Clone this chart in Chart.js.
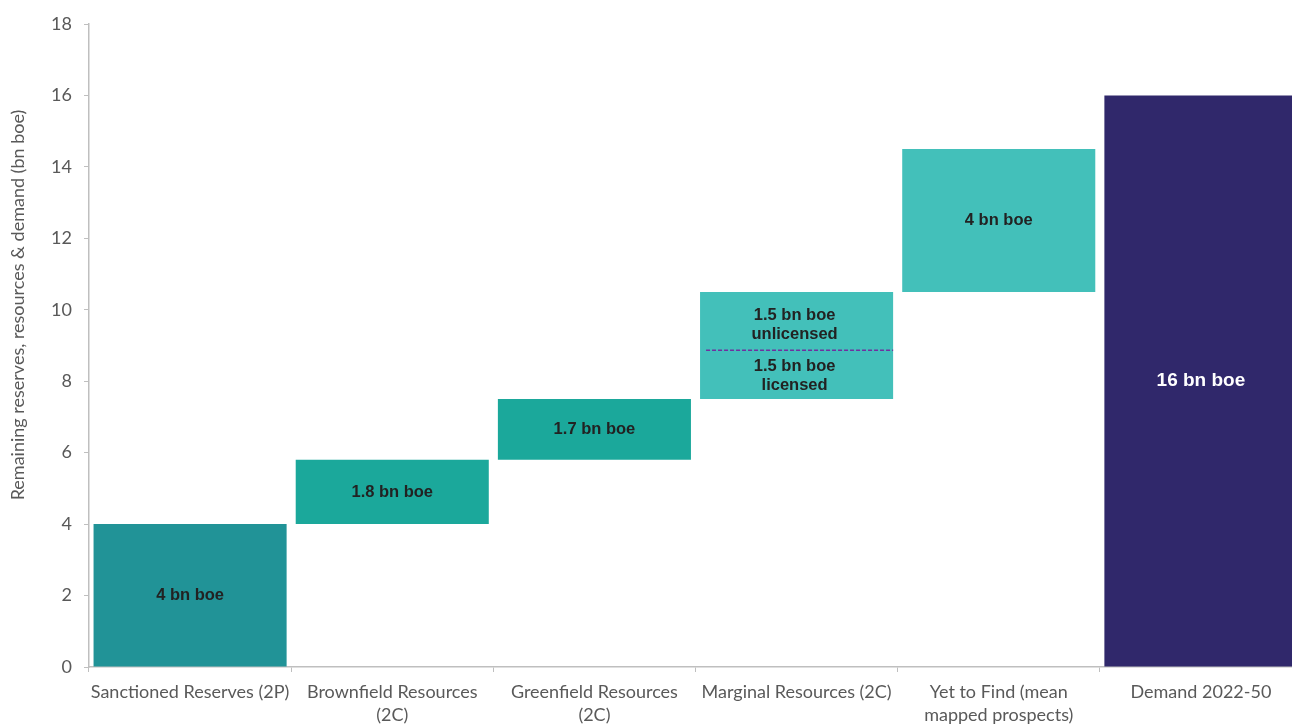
<!DOCTYPE html>
<html>
<head>
<meta charset="utf-8">
<script src="https://cdn.jsdelivr.net/npm/chart.js@4.4.1/dist/chart.umd.min.js"></script>
<style>
html,body{margin:0;padding:0;overflow:hidden;background:#fff;}
#wrap{width:1302px;height:725px;}
</style>
</head>
<body>
<div id="wrap"><canvas id="c" width="1302" height="725"></canvas></div>
<script>
const categories = [
  ["Sanctioned Reserves (2P)"],
  ["Brownfield Resources", "(2C)"],
  ["Greenfield Resources", "(2C)"],
  ["Marginal Resources (2C)"],
  ["Yet to Find (mean", "mapped prospects)"],
  ["Demand 2022-50"]
];
const barStart = [0, 4.0, 5.8, 7.5, 10.5, 0];
const barEnd   = [4.0, 5.8, 7.5, 10.5, 14.5, 16.0];
const barColors = ["#219397", "#1BA89B", "#1BA89B", "#43C0BA", "#43C0BA", "#30286B"];
const barLabels = [
  ["4 bn boe"],
  ["1.8 bn boe"],
  ["1.7 bn boe"],
  null,
  ["4 bn boe"],
  ["16 bn boe"]
];
const labelColors = ["#222222", "#222222", "#222222", "#222222", "#222222", "#FFFFFF"];
const labelSizes = [16.5, 16.5, 16.5, 16.5, 16.5, 19];
const marginalIndex = 3;
const marginalSplit = 8.87;
const marginalUpper = ["1.5 bn boe", "unlicensed"];
const marginalLower = ["1.5 bn boe", "licensed"];
const yTicks = [0, 2, 4, 6, 8, 10, 12, 14, 16, 18];
const yTitle = "Remaining reserves, resources & demand (bn boe)";

const axisGray = "#BFBFBF";
const tickText = "#595959";

const labelPlugin = {
  id: "barLabels",
  afterDatasetsDraw(chart) {
    const ctx = chart.ctx;
    const meta = chart.getDatasetMeta(0);
    const y = chart.scales.y;
    ctx.save();
    ctx.textAlign = "center";
    ctx.textBaseline = "middle";
    const lh = 19;
    const drawLines = (lines, cx, cy, color, size) => {
      ctx.font = "bold " + size + "px 'Liberation Sans', Arial, sans-serif";
      ctx.fillStyle = color;
      const n = lines.length;
      lines.forEach((t, i) => ctx.fillText(t, cx, cy + (i - (n - 1) / 2) * lh));
    };
    meta.data.forEach((bar, i) => {
      const cx = bar.x;
      if (i === marginalIndex) {
        const ySplit = y.getPixelForValue(marginalSplit);
        const yTop = y.getPixelForValue(barEnd[i]);
        const yBot = y.getPixelForValue(barStart[i]);
        drawLines(marginalUpper, cx - 2, (yTop + ySplit) / 2 + 4, labelColors[i], labelSizes[i]);
        drawLines(marginalLower, cx - 2, (ySplit + yBot) / 2 + 1, labelColors[i], labelSizes[i]);
        ctx.save();
        ctx.strokeStyle = "#7030A0";
        ctx.lineWidth = 1.5;
        ctx.setLineDash([4, 2]);
        ctx.beginPath();
        ctx.moveTo(bar.x - bar.width / 2 + 6, ySplit);
        ctx.lineTo(bar.x + bar.width / 2, ySplit);
        ctx.stroke();
        ctx.restore();
      } else if (barLabels[i]) {
        const cy = (y.getPixelForValue(barStart[i]) + y.getPixelForValue(barEnd[i])) / 2;
        drawLines(barLabels[i], cx, cy, labelColors[i], labelSizes[i]);
      }
    });
    // y axis title
    ctx.save();
    ctx.font = "18px Lato, 'Open Sans', sans-serif";
    ctx.fillStyle = tickText;
    ctx.translate(18, 305);
    ctx.rotate(-Math.PI / 2);
    ctx.textAlign = "center";
    ctx.textBaseline = "middle";
    ctx.fillText(yTitle, 0, 0);
    ctx.restore();
    ctx.restore();
  }
};

new Chart(document.getElementById("c"), {
  type: "bar",
  data: {
    labels: categories,
    datasets: [{
      data: barStart.map((s, i) => [s, barEnd[i]]),
      backgroundColor: barColors,
      borderWidth: 0,
      barPercentage: 0.955,
      categoryPercentage: 1.0
    }]
  },
  options: {
    responsive: false,
    animation: false,
    devicePixelRatio: 1,
    layout: { padding: { top: 24, left: 0, right: 0, bottom: 0 } },
    plugins: { legend: { display: false }, tooltip: { enabled: false } },
    scales: {
      x: {
        grid: { display: true, drawOnChartArea: false, offset: true, tickLength: 5, color: axisGray },
        border: { display: true, color: axisGray, width: 1.5 },
        ticks: {
          color: tickText,
          font: { family: "Lato, 'Open Sans', sans-serif", size: 18, lineHeight: 1.28 },
          padding: 9,
          maxRotation: 0,
          autoSkip: false
        },
        afterFit: s => { s.height = 58; }
      },
      y: {
        min: 0, max: 18,
        afterBuildTicks: s => { s.ticks = yTicks.map(v => ({ value: v })); },
        grid: { display: true, drawOnChartArea: false, tickLength: 5, color: axisGray },
        border: { display: true, color: axisGray, width: 1.5 },
        ticks: {
          color: tickText,
          font: { family: "Lato, 'Open Sans', sans-serif", size: 18 },
          padding: 12
        },
        afterFit: s => { s.width = 89; }
      }
    }
  },
  plugins: [labelPlugin]
});
</script>
</body>
</html>
